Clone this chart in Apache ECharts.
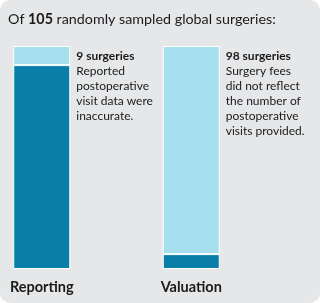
<!DOCTYPE html>
<html>
<head>
<meta charset="utf-8">
<script src="https://cdn.jsdelivr.net/npm/echarts@6/dist/echarts.min.js"></script>
<style>
  html, body { margin: 0; padding: 0; background: #ffffff; }
  #chart { width: 320px; height: 303px; }
</style>
</head>
<body>
<div id="chart"></div>
<script>
// data
var categories = ['Reporting', 'Valuation']
var flagged = [9, 98]   // light segment (on top)
var rest = [96, 7]      // dark segment (bottom)
var total = 105
var flagTitles = ['9 surgeries', '98 surgeries']
var flagNotes = [
  'Reported\npostoperative\nvisit data were\ninaccurate.',
  'Surgery fees\ndid not reflect\nthe number of\npostoperative\nvisits provided.'
]

var font = 'Lato, "Liberation Sans", sans-serif'
var chart = echarts.init(document.getElementById('chart'))

chart.setOption({
  animation: false,
  textStyle: { fontFamily: font },
  graphic: [
    {
      type: 'rect',
      shape: { x: 0, y: 0, width: 320, height: 303, r: 10 },
      style: { fill: '#e6e7e9' },
      z: -10
    },
    {
      type: 'text',
      left: 8,
      top: 12,
      style: {
        text: '{n|Of }{b|' + total + '}{n| randomly sampled global surgeries:}',
        rich: {
          n: { fontSize: 14.3, fontFamily: font, fill: '#1a1a1a' },
          b: { fontSize: 14.3, fontFamily: font, fontWeight: 'bold', fill: '#1a1a1a' }
        }
      }
    }
  ],
  grid: {
    left: -33,
    top: 46,
    width: 299,
    height: 223,
    outerBoundsMode: 'none',
    containLabel: false
  },
  xAxis: {
    type: 'category',
    data: categories,
    axisLine: { show: false },
    axisTick: { show: false },
    axisLabel: {
      margin: 11,
      fontSize: 14.5,
      fontWeight: 'bold',
      color: '#1a1a1a',
      fontFamily: font
    }
  },
  yAxis: {
    type: 'value',
    min: 0,
    max: total,
    show: false,
    splitLine: { show: false }
  },
  series: [
    {
      name: 'other',
      type: 'bar',
      stack: 'all',
      barWidth: 57,
      data: rest,
      itemStyle: { color: '#087ea9', borderColor: '#ffffff', borderWidth: 1 }
    },
    {
      name: 'flagged',
      type: 'bar',
      stack: 'all',
      data: flagged,
      itemStyle: { color: '#a6dfee', borderColor: '#ffffff', borderWidth: 1 },
      label: {
        show: true,
        position: ['100%', 0],
        distance: 0,
        padding: [3, 0, 0, 6],
        align: 'left',
        verticalAlign: 'top',
        formatter: function (p) {
          return '{t|' + flagTitles[p.dataIndex] + '}\n{d|' + flagNotes[p.dataIndex].split('\n').join('}\n{d|') + '}'
        },
        rich: {
          t: { fontSize: 12, fontWeight: 'bold', lineHeight: 15, color: '#1a1a1a', fontFamily: font },
          d: { fontSize: 12, lineHeight: 15, color: '#1a1a1a', fontFamily: font }
        }
      }
    }
  ]
})
</script>
</body>
</html>
